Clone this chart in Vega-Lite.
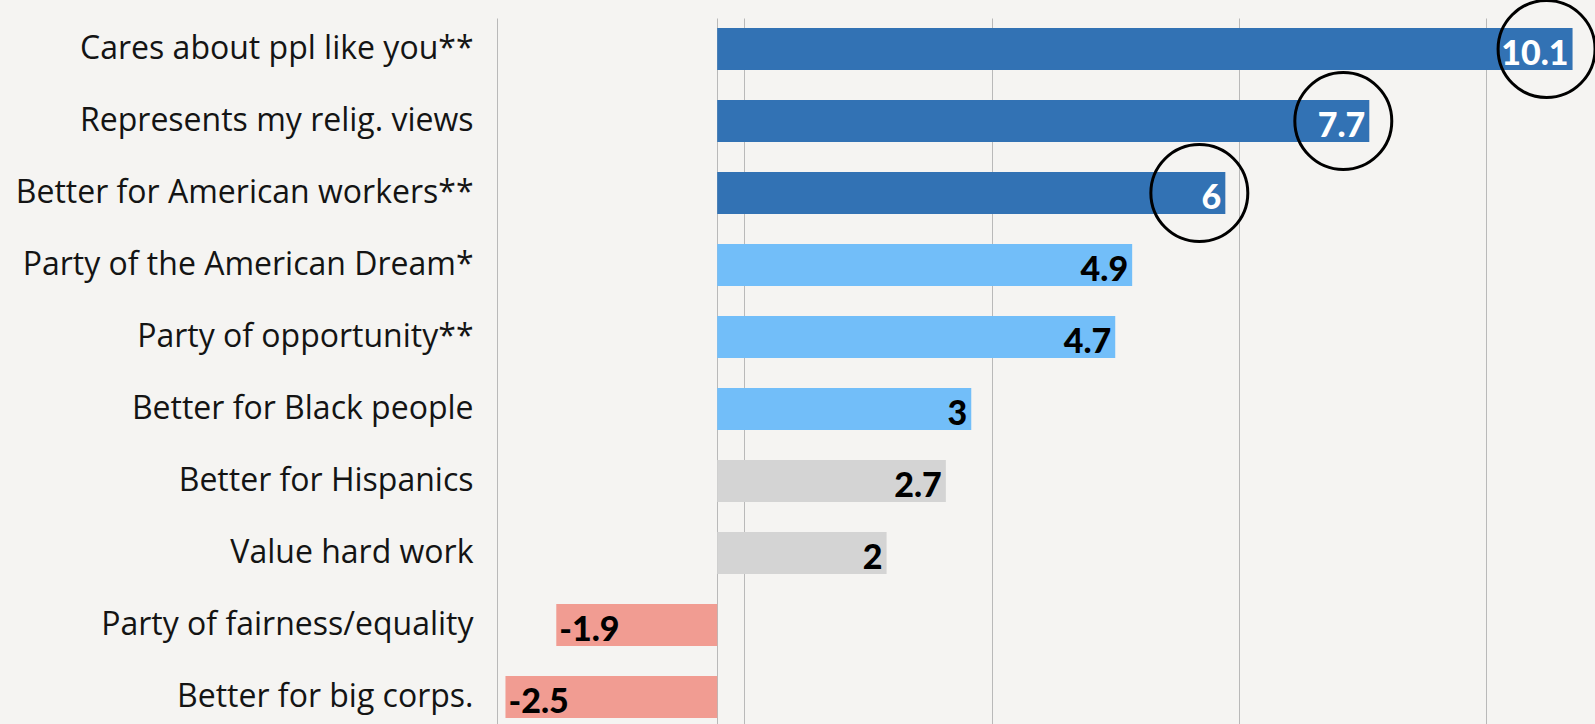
{
  "$schema": "https://vega.github.io/schema/vega-lite/v6.json",
  "autosize": "none",
  "padding": {"left": 497, "top": 18, "right": 0, "bottom": 0},
  "width": 1098,
  "height": 710,
  "background": "#f5f4f2",
  "config": {"view": {"stroke": null}, "font": "Lato"},
  "data": {
    "values": [
      {"item": "Cares about ppl like you**", "value": 10.1, "label": "10.1", "group": "top"},
      {"item": "Represents my relig. views", "value": 7.7, "label": "7.7", "group": "top"},
      {"item": "Better for American workers**", "value": 6, "label": "6", "group": "top"},
      {"item": "Party of the American Dream*", "value": 4.9, "label": "4.9", "group": "high"},
      {"item": "Party of opportunity** ", "value": 4.7, "label": "4.7", "group": "high"},
      {"item": "Better for Black people", "value": 3, "label": "3", "group": "high"},
      {"item": "Better for Hispanics", "value": 2.7, "label": "2.7", "group": "mid"},
      {"item": "Value hard work", "value": 2, "label": "2", "group": "mid"},
      {"item": "Party of fairness/equality", "value": -1.9, "label": "-1.9", "group": "neg"},
      {"item": "Better for big corps.", "value": -2.5, "label": "-2.5", "group": "neg"}
    ]
  },
  "encoding": {
    "y": {
      "field": "item", "type": "nominal", "sort": null,
      "scale": {"paddingInner": 0.4167, "paddingOuter": 0.139},
      "axis": {"title": null, "ticks": false, "domain": false, "labelFont": "Open Sans", "labelFontSize": 32, "labelColor": "#141414", "labelPadding": 24, "labelLimit": 600}
    }
  },
  "layer": [
    {
      "mark": {"type": "bar"},
      "encoding": {
        "x": {
          "field": "value", "type": "quantitative",
          "scale": {"domain": [-2.6, 10.365], "nice": false, "zero": false},
          "axis": {"title": null, "labels": false, "ticks": false, "domain": false, "grid": true, "gridColor": "#b9b9b9", "gridWidth": 1, "values": [-2.6, 0, 0.32, 3.24, 6.16, 9.08]}
        },
        "color": {
          "field": "group", "type": "nominal", "legend": null,
          "scale": {"domain": ["top", "high", "mid", "neg"], "range": ["#3272b4", "#72bef9", "#d4d4d4", "#f19c92"]}
        }
      }
    },
    {
      "transform": [{"filter": "datum.value >= 0"}],
      "mark": {"type": "text", "align": "right", "baseline": "alphabetic", "dx": -4, "dy": 16, "font": "Lato", "fontSize": 34, "fontWeight": 900},
      "encoding": {
        "x": {"field": "value", "type": "quantitative"},
        "text": {"field": "label"},
        "color": {"condition": {"test": "datum.group === 'top'", "value": "#ffffff"}, "value": "#000000"}
      }
    },
    {
      "transform": [{"filter": "datum.value < 0"}],
      "mark": {"type": "text", "align": "left", "baseline": "alphabetic", "dx": 3, "dy": 16, "font": "Lato", "fontSize": 34, "fontWeight": 900, "color": "#000000"},
      "encoding": {
        "x": {"field": "value", "type": "quantitative"},
        "text": {"field": "label"}
      }
    },
    {
      "transform": [{"filter": "datum.group === 'top'"}],
      "mark": {"type": "point", "shape": "circle", "filled": false, "stroke": "#000000", "strokeWidth": 3, "size": 9400, "xOffset": -26, "yOffset": 0, "opacity": 1},
      "encoding": {
        "x": {"field": "value", "type": "quantitative"}
      }
    }
  ]
}
